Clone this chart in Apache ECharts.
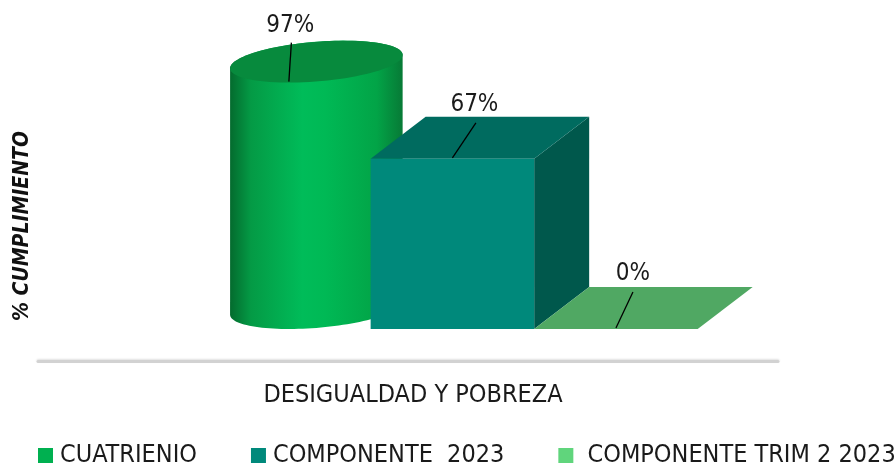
<!DOCTYPE html>
<html>
<head>
<meta charset="utf-8">
<script src="https://cdn.jsdelivr.net/npm/echarts@6/dist/echarts.min.js"></script>
<style>
  html, body { margin: 0; padding: 0; background: #fff; }
  #chart { width: 896px; height: 465px; }
</style>
</head>
<body>
<div id="chart"></div>
<script>
// datos
const categories = ["DESIGUALDAD Y POBREZA"];
const seriesNames = ["CUATRIENIO", "COMPONENTE  2023", " COMPONENTE TRIM 2 2023"];
const cuatrienio = [97];
const componente2023 = [67];
const componenteTrim2 = [0];

const FONT = "'DejaVu Sans Condensed', 'Liberation Sans Narrow', sans-serif";

// geometria 3d (pixeles)
const BAR_FRAC = 0.221;     // ancho de la cara frontal / ancho de banda
const GROUP_SHIFT = 0.06;   // desplazamiento del grupo dentro de la banda
const DEPTH_X = 55;
const DEPTH_Y = -42;

// posicion de etiquetas relativa al borde frontal superior
const labelOffsets = [[1.5, -57], [22, -54], [17, -55]];
const lineOffsets = [[2.5, -40], [23.5, -36], [17, -37]];

function ellipsePts(cx, cy, ux, vx, vy, t1, t2, n) {
  const pts = [];
  for (let k = 0; k <= n; k++) {
    const t = t1 + (t2 - t1) * k / n;
    pts.push([cx + ux * Math.cos(t) + vx * Math.sin(t), cy + vy * Math.sin(t)]);
  }
  return pts;
}

function makeRender(slot, shape) {
  return function (params, api) {
    const val = api.value(1);
    const base = api.coord([api.value(0), 0]);
    const top = api.coord([api.value(0), val]);
    const band = api.size([1, 0])[0];
    const w = band * BAR_FRAC;
    const groupCenter = base[0] + band * GROUP_SHIFT;
    const x0 = groupCenter - 1.5 * w + slot * w;
    const floorY = base[1];
    const topY = top[1];
    const children = [];

    if (shape === "cylinder") {
      const cx = x0 + w / 2 + DEPTH_X / 2;
      const ux = w / 2, vx = DEPTH_X / 2, vy = DEPTH_Y / 2;
      const t0 = Math.atan2(vx, ux);
      const cyB = floorY + vy, cyT = topY + vy;
      const body = ellipsePts(cx, cyB, ux, vx, vy, t0 + Math.PI, t0 + 2 * Math.PI, 60)
        .concat(ellipsePts(cx, cyT, ux, vx, vy, t0, t0 + Math.PI, 60));
      children.push({
        type: "polygon",
        shape: { points: body },
        style: {
          fill: new echarts.graphic.LinearGradient(0, 0, 1, 0, [
            { offset: 0, color: "#046b2e" },
            { offset: 0.12, color: "#049a45" },
            { offset: 0.42, color: "#00bc59" },
            { offset: 0.55, color: "#00b955" },
            { offset: 0.85, color: "#02a447" },
            { offset: 1, color: "#077a36" }
          ])
        }
      });
      children.push({
        type: "polygon",
        shape: { points: ellipsePts(cx, cyT, ux, vx, vy, 0, 2 * Math.PI, 90) },
        style: { fill: "#078a3d" }
      });
    } else if (shape === "box") {
      children.push({
        type: "polygon",
        shape: { points: [[x0 + w, topY], [x0 + w + DEPTH_X, topY + DEPTH_Y], [x0 + w + DEPTH_X, floorY + DEPTH_Y], [x0 + w, floorY]] },
        style: { fill: "#00584c" }
      });
      children.push({
        type: "polygon",
        shape: { points: [[x0, topY], [x0 + w, topY], [x0 + w + DEPTH_X, topY + DEPTH_Y], [x0 + DEPTH_X, topY + DEPTH_Y]] },
        style: { fill: "#006b5f" }
      });
      children.push({
        type: "rect",
        shape: { x: x0, y: topY, width: w, height: floorY - topY },
        style: { fill: "#00897b" }
      });
    } else {
      children.push({
        type: "polygon",
        shape: { points: [[x0, topY], [x0 + w, topY], [x0 + w + DEPTH_X, topY + DEPTH_Y], [x0 + DEPTH_X, topY + DEPTH_Y]] },
        style: { fill: "#50a863" }
      });
    }

    // etiqueta con linea guia
    const fx = x0 + w / 2;
    const lo = labelOffsets[slot], ln = lineOffsets[slot];
    children.push({
      type: "line",
      shape: { x1: fx + ln[0], y1: topY + ln[1], x2: fx, y2: topY - 1 },
      style: { stroke: "#000", lineWidth: 1.3 },
      z2: 10
    });
    children.push({
      type: "text",
      x: fx + lo[0],
      y: topY + lo[1],
      style: {
        text: val + "%",
        align: "center",
        verticalAlign: "middle",
        font: "24px " + FONT,
        fill: "#1a1a1a"
      },
      z2: 10
    });
    return { type: "group", children: children };
  };
}

const chart = echarts.init(document.getElementById("chart"));
chart.setOption({
  animation: false,
  legend: {
    left: 38,
    top: 443,
    width: 900,
    padding: 0,
    icon: "rect",
    itemWidth: 15,
    itemHeight: 15,
    itemGap: 54,
    textStyle: {
      fontFamily: FONT,
      fontSize: 25,
      color: "#1a1a1a",
      padding: [0, 0, 0, 2]
    },
    data: seriesNames
  },
  graphic: [
    {
      type: "text",
      x: 23,
      y: 226,
      rotation: Math.PI / 2,
      style: {
        text: "% CUMPLIMIENTO",
        align: "center",
        verticalAlign: "middle",
        font: "italic bold 21px " + FONT,
        fill: "#111"
      }
    }
  ],
  grid: {
    left: 38,
    right: 118,
    top: 75,
    bottom: 136
  },
  xAxis: {
    type: "category",
    data: categories,
    offset: 32,
    axisTick: { show: false },
    axisLine: {
      onZero: false,
      lineStyle: {
        color: "#d2d2d2",
        width: 3,
        shadowColor: "rgba(0,0,0,0.12)",
        shadowBlur: 2,
        shadowOffsetY: -1
      }
    },
    axisLabel: {
      margin: 22,
      padding: [0, 0, 0, 10],
      fontFamily: FONT,
      fontSize: 25,
      color: "#1a1a1a"
    }
  },
  yAxis: {
    type: "value",
    min: 0,
    max: 100,
    show: false
  },
  series: [
    {
      name: seriesNames[0],
      type: "custom",
      clip: false,
      itemStyle: { color: "#00b050" },
      renderItem: makeRender(0, "cylinder"),
      data: cuatrienio.map((v, i) => [i, v])
    },
    {
      name: seriesNames[1],
      type: "custom",
      clip: false,
      itemStyle: { color: "#00897b" },
      renderItem: makeRender(1, "box"),
      data: componente2023.map((v, i) => [i, v])
    },
    {
      name: seriesNames[2],
      type: "custom",
      clip: false,
      itemStyle: { color: "#60d57c" },
      renderItem: makeRender(2, "slab"),
      data: componenteTrim2.map((v, i) => [i, v])
    }
  ]
});
window.addEventListener("resize", function () {
  chart.resize();
});
</script>
</body>
</html>
